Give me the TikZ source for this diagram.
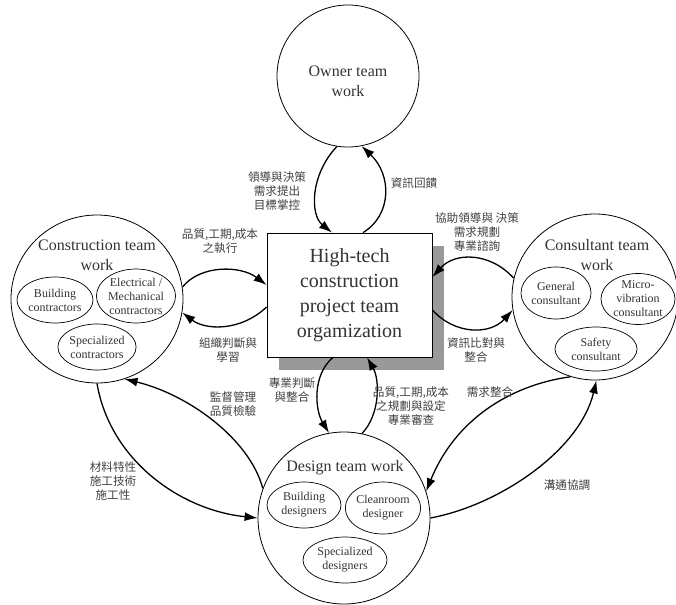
\documentclass[tikz,border=0pt]{standalone}
\usepackage{fontspec}
\setmainfont{Liberation Serif}
\newfontfamily\cjk{Noto Sans CJK TC}
\usetikzlibrary{shapes.geometric,arrows.meta,calc}
\begin{document}
\begin{tikzpicture}[x=1pt,y=-1pt,
 big/.style={draw, ellipse, line width=0.8pt, inner sep=0pt},
 sub/.style={draw, ellipse, line width=0.7pt, inner sep=0pt, align=center, font=\fontsize{12}{14}\selectfont, text=black!80},
 title/.style={align=center, font=\fontsize{16}{20}\selectfont, text=black!80, inner sep=0pt},
 lab/.style={align=center, font=\cjk\fontsize{11.6}{14}\selectfont, text=black!75, inner sep=0pt},
 arr/.style={line width=1.3pt, -{Latex[length=13pt,width=9pt]}},
 boxst/.style={minimum width=165, minimum height=124, inner sep=0pt},
]
\useasboundingbox (0,0) rectangle (676,604);
% owner
\node[big, minimum width=142, minimum height=142] (owner) at (348,76) {};
\node[title] (ownert) at (348,81) {Owner team\\work};
% construction
\node[big, minimum width=172, minimum height=168] (cons) at (97,299) {};
\node[title] (const) at (97,255) {Construction team\\work};
\node[sub, minimum width=76, minimum height=46] (bc) at (55,300) {Building\\contractors};
\node[sub, minimum width=74, minimum height=54] (em) at (136,296) {Electrical /\\Mechanical\\contractors};
\node[sub, minimum width=78, minimum height=46] (sc) at (97,347) {Specialized\\contractors};
% consultant
\node[big, minimum width=166, minimum height=166] (cnsl) at (595,297) {};
\node[title] (cnslt) at (597,255) {Consultant team\\work};
\node[sub, minimum width=70, minimum height=52] (gc) at (556,293) {General\\consultant};
\node[sub, minimum width=74, minimum height=50] (mv) at (638,299) {Micro-\\vibration\\consultant};
\node[sub, minimum width=82, minimum height=44] (sf) at (596,349) {Safety\\consultant};
% design
\node[big, minimum width=172, minimum height=172] (des) at (344,518) {};
\node[title] (dest) at (345,468) {Design team work};
\node[sub, minimum width=74, minimum height=46] (bd) at (304,505) {Building\\designers};
\node[sub, minimum width=74, minimum height=52] (cd) at (383,508) {Cleanroom\\designer};
\node[sub, minimum width=84, minimum height=46] (sd) at (345,560) {Specialized\\designers};
% central box
\node[boxst, fill=black!40] (shadow) at (361.5,308) {};
\node[boxst, draw, fill=white, line width=0.8pt, align=center, font=\fontsize{20}{25}\selectfont, text=black!80] (box) at (349.5,295) {High-tech\\construction\\project team\\orgamization};
% arrows
\draw[arr] (owner.261) .. controls (310,175) and (310,215) .. ($(box.north)+(-17.5,0)$);
\draw[arr] ($(box.north)+(13.5,0)$) .. controls (392,215) and (392,175) .. (owner.281);
\draw[arr] (cons.8) .. controls (200,265) and (240,265) .. ($(box.west)+(0,-10)$);
\draw[arr] ($(box.west)+(0,12)$) .. controls (240,332) and (205,330) .. (cons.351);
\draw[arr] (cnsl.167) .. controls (490,252) and (455,252) .. ($(box.east)+(0,-18)$);
\draw[arr] ($(box.east)+(0,15)$) .. controls (455,335) and (490,335) .. (cnsl.189);
\draw[arr] ($(box.south)+(-16.5,0)$) .. controls (312,375) and (315,410) .. (des.100);
\draw[arr] (des.78) .. controls (380,415) and (380,380) .. ($(box.south)+(17.5,0)$);
\draw[arr] (cons.270) .. controls (110,460) and (180,510) .. (des.180);
\draw[arr] (des.160) .. controls (250,440) and (190,395) .. (cons.289);
\draw[arr] (cnsl.253) .. controls (510,385) and (455,420) .. (des.18);
\draw[arr] (des.0) .. controls (500,505) and (580,450) .. (cnsl.271);
% labels
\node[lab] (l1) at (277,191) {領導與決策\\需求提出\\目標掌控};
\node[lab] (l2) at (414,183) {資訊回饋};
\node[lab] (l3) at (220,241) {品質,工期,成本\\之執行};
\node[lab] (l4) at (228,350) {組織判斷與\\學習};
\node[lab] (l5) at (477,232) {協助領導與 決策\\需求規劃\\專業諮詢};
\node[lab] (l6) at (476,350) {資訊比對與\\整合};
\node[lab] (l7) at (292,390) {專業判斷\\與整合};
\node[lab] (l8) at (411,406) {品質,工期,成本\\之規劃與設定\\專業審查};
\node[lab] (l9) at (233,404) {監督管理\\品質檢驗};
\node[lab] (l10) at (113,481) {材料特性\\施工技術\\施工性};
\node[lab] (l11) at (490,392) {需求整合};
\node[lab] (l12) at (567,485) {溝通協調};
\end{tikzpicture}
\end{document}
